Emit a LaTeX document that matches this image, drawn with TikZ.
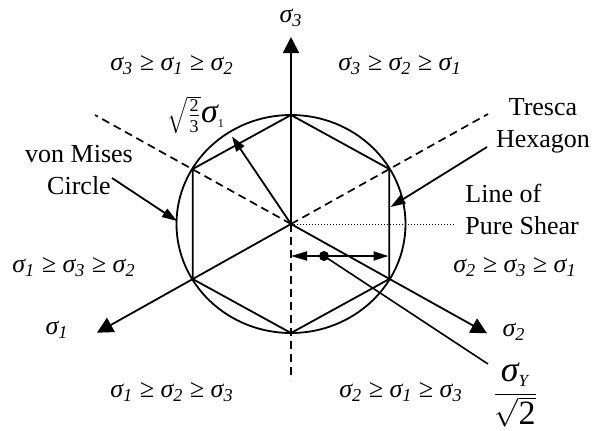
\documentclass[tikz,border=0pt]{standalone}
\usepackage{fontspec}
\setmainfont{Liberation Serif}
\usetikzlibrary{arrows.meta}
\begin{document}
\begin{tikzpicture}[x=0.5pt,y=-0.5pt,
  every node/.style={inner sep=0pt, font=\fontsize{13}{16}\selectfont},
  ln/.style={line width=0.9pt},
  axis/.style={ln,-{Triangle[length=8pt,width=8pt]}},
  ptr/.style={ln,-{Triangle[length=7.5pt,width=4.8pt]}},
  dsh/.style={line width=0.85pt,dash pattern=on 4pt off 2.5pt},
  rel/.style={font=\fontsize{13}{16}\selectfont\itshape},
  txt/.style={font=\fontsize{13}{16}\selectfont, align=center},
]
\useasboundingbox (0,0) rectangle (596,430);
% key points
\coordinate (O) at (291,224);
\coordinate (H1) at (291,115);
\coordinate (H2) at (389.3,169);
\coordinate (H3) at (389.3,279);
\coordinate (H4) at (291,333);
\coordinate (H5) at (192.7,279);
\coordinate (H6) at (192.7,169);
\coordinate (s3) at (291,37);
\coordinate (s1) at (97,332.7);
\coordinate (s2) at (487,333.3);
\coordinate (dUL) at (95,115);
\coordinate (dUR) at (488,114);
\coordinate (dD) at (291,380);
\coordinate (dotEnd) at (455,224);
\coordinate (rtip) at (232,136.5);
\coordinate (dimL) at (291,256);
\coordinate (dimR) at (388.5,256);
\coordinate (dot) at (324,256);
\coordinate (lead) at (488,364);
\coordinate (tr) at (487,147);
\coordinate (trtip) at (390.5,207);
\coordinate (vm) at (112,178);
\coordinate (vmtip) at (177,221);

% circle and hexagon
\draw[ln] (O) ellipse [x radius=57.25pt, y radius=54.5pt];
\draw[ln] (H1) -- (H2) -- (H3) -- (H4) -- (H5) -- (H6) -- cycle;

% dashed lines
\draw[dsh] (O) -- (dUL);
\draw[dsh] (O) -- (dUR);
\draw[dsh] (O) -- (dD);
\draw[line width=0.45pt, dash pattern=on 0.6pt off 0.9pt] (O) -- (dotEnd);

% axes
\draw[axis] (O) -- (s3);
\draw[axis] (O) -- (s1);
\draw[axis] (O) -- (s2);

% radius arrow
\draw[ptr] (O) -- (rtip);

% dimension arrow
\draw[ln,{Triangle[length=8pt,width=4.5pt]}-{Triangle[length=7.5pt,width=4.5pt]}] (dimL) -- (dimR);
\fill (dot) circle [radius=2.5pt];
\draw[line width=0.8pt] (dot) -- (lead);

% pointers
\draw[ptr] (tr) -- (trtip);
\draw[ptr] (vm) -- (vmtip);

% labels
\node (l3) at (291,18) [rel] {σ\textsubscript{3}};
\node (l1) at (57,330) [rel] {σ\textsubscript{1}};
\node (l2) at (514,332) [rel] {σ\textsubscript{2}};
\node (r312) at (172,65) [rel] {σ\textsubscript{3} ≥ σ\textsubscript{1} ≥ σ\textsubscript{2}};
\node (r321) at (400,65) [rel] {σ\textsubscript{3} ≥ σ\textsubscript{2} ≥ σ\textsubscript{1}};
\node (r132) at (74,267) [rel] {σ\textsubscript{1} ≥ σ\textsubscript{3} ≥ σ\textsubscript{2}};
\node (r231) at (515,267) [rel] {σ\textsubscript{2} ≥ σ\textsubscript{3} ≥ σ\textsubscript{1}};
\node (r123) at (172,392) [rel] {σ\textsubscript{1} ≥ σ\textsubscript{2} ≥ σ\textsubscript{3}};
\node (r213) at (401,392) [rel] {σ\textsubscript{2} ≥ σ\textsubscript{1} ≥ σ\textsubscript{3}};

\node (vml) at (79,170) [txt] {von Mises\\Circle};
\node (trl) at (543,126) [txt] {Tresca\\Hexagon};
\node (psl) at (465,209) [txt, align=left, anchor=west] {Line of\\Pure Shear};

\node (rl) at (196,115) {\fontsize{14}{16}\selectfont$\sqrt{\frac{\mbox{\fontsize{9}{9}\selectfont 2}}{\mbox{\fontsize{9}{9}\selectfont 3}}}\mbox{\fontsize{17}{18}\selectfont\itshape σ}_{\mbox{\fontsize{6}{6}\selectfont 1}}$};
\node (fy) at (515,395) {\fontsize{15}{17}\selectfont$\displaystyle\frac{\mbox{\fontsize{18}{18}\selectfont\itshape σ}_{\mbox{\fontsize{8.5}{8.5}\selectfont\itshape Y}}}{\sqrt{\mbox{\fontsize{17}{17}\selectfont 2}}}$};
\end{tikzpicture}
\end{document}
